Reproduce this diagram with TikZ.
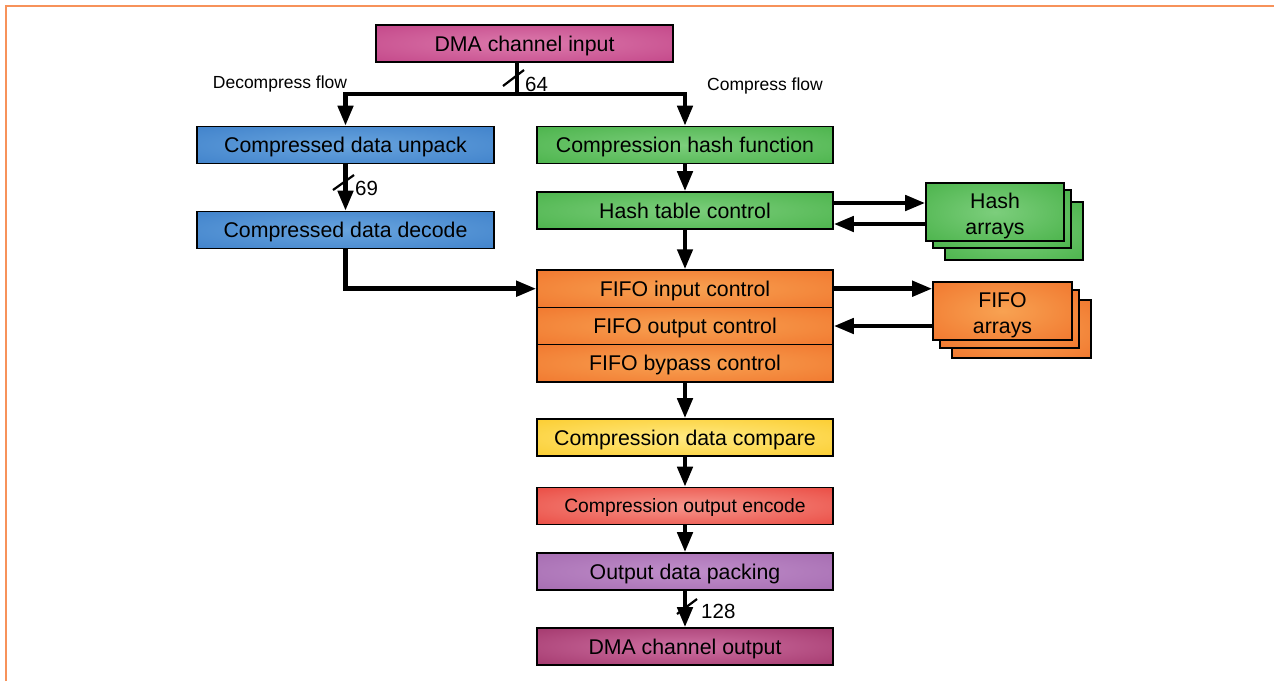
\documentclass[tikz,border=0pt]{standalone}
\usepackage{fontspec}
\setmainfont{Liberation Sans}
\usetikzlibrary{arrows.meta,calc}

% block palette: inner (centre glow) and outer (edge) colours
\definecolor{magI}{RGB}{220,122,172}\definecolor{magO}{RGB}{186,52,124}
\definecolor{bluI}{RGB}{104,164,222}\definecolor{bluO}{RGB}{50,118,196}
\definecolor{grnI}{RGB}{124,206,124}\definecolor{grnO}{RGB}{58,170,58}
\definecolor{orgI}{RGB}{248,162,82}\definecolor{orgO}{RGB}{238,104,34}
\definecolor{yelI}{RGB}{255,234,130}\definecolor{yelO}{RGB}{250,194,18}
\definecolor{redI}{RGB}{246,150,140}\definecolor{redO}{RGB}{230,48,40}
\definecolor{purI}{RGB}{192,142,202}\definecolor{purO}{RGB}{156,96,168}
\definecolor{dmoI}{RGB}{206,112,162}\definecolor{dmoO}{RGB}{148,36,90}
\definecolor{frameorange}{RGB}{247,146,90}

\colorlet{glowin}{white}
\colorlet{glowout}{black}
\pgfdeclareradialshading[glowin,glowout]{glow}{\pgfpoint{0bp}{0bp}}{%
  color(0bp)=(glowin); color(50bp)=(glowout); color(72bp)=(glowout)}

\tikzset{
  glowfill/.style 2 args={/utils/exec={\colorlet{glowin}{#1}\colorlet{glowout}{#2}},
    shade, shading=glow},
  blk/.style 2 args={draw=black, line width=1.6pt, minimum width=296pt,
    minimum height=37pt, inner sep=0pt, text height=15pt, text depth=0pt,
    font=\fontsize{21.3}{27}\selectfont, glowfill={#1}{#2}},
  arr/.style 2 args={draw=black, line width=1.6pt, minimum width=138pt,
    minimum height=58pt, inner sep=0pt, align=center, text height=45pt,
    text depth=0pt, font=\fontsize{21.3}{26}\selectfont, glowfill={#1}{#2}},
  flow/.style={draw=black, line width=4.5pt, line join=miter,
    -{Triangle[length=20pt,width=15pt]}},
  bus/.style={draw=black, line width=4.5pt, line join=miter},
  tick/.style={draw=black, line width=2.2pt},
  lbl/.style={font=\fontsize{17.5}{21}\selectfont, inner sep=0pt},
  wlbl/.style={font=\fontsize{20.5}{24}\selectfont, inner sep=0pt, anchor=west},
}

\begin{document}
\begin{tikzpicture}[x=1pt,y=-1pt]
\useasboundingbox (0,0) rectangle (1274,681);
\fill[white] (0,0) rectangle (1274,681);
\draw[frameorange, line width=2.5pt] (6,681) -- (6,6) -- (1274,6);

% input and decompress path
\node[blk={magI}{magO}, minimum width=297pt] (dmain) at (524.5,43.5) {DMA channel input};
\node[blk={bluI}{bluO}, minimum width=297pt] (unpack) at (345.5,145) {Compressed data unpack};
\node[blk={bluI}{bluO}, minimum width=297pt] (decode) at (345.5,230) {Compressed data decode};

% compress path
\node[blk={grnI}{grnO}] (hashfn) at (685,145) {Compression hash function};
\node[blk={grnI}{grnO}] (hashctl) at (685,210.5) {Hash table control};
\node[blk={orgI}{orgO}, minimum height=37.3pt] (fifoin) at (685,288.7) {FIFO input control};
\node[blk={orgI}{orgO}, minimum height=37.3pt] (fifoout) at (685,326) {FIFO output control};
\node[blk={orgI}{orgO}, minimum height=37.3pt] (fifobyp) at (685,363.3) {FIFO bypass control};
\node[blk={yelI}{yelO}] (compare) at (685,437.5) {Compression data compare};
\node[blk={redI}{redO}, font=\fontsize{19.3}{23}\selectfont, text height=13.6pt] (encode) at (685,506) {Compression output encode};
\node[blk={purI}{purO}] (packing) at (685,571.5) {Output data packing};
\node[blk={dmoI}{dmoO}] (dmaout) at (685,646.5) {DMA channel output};

% stacked memory arrays
\node[arr={grnI}{grnO}] at (1014,231) {};
\node[arr={grnI}{grnO}] at (1002,219) {};
\node[arr={grnI}{grnO}] (hasharr) at (995,212) {Hash\\arrays};
\node[arr={orgI}{orgO}, minimum width=139pt] at (1021.5,329) {};
\node[arr={orgI}{orgO}, minimum width=139pt] at (1009.5,319) {};
\node[arr={orgI}{orgO}, minimum width=139pt] (fifoarr) at (1002.5,311) {FIFO\\arrays};

% flow labels
\node[lbl] (decl) at (280,84) {Decompress flow};
\node[lbl] (compl) at (765,86) {Compress flow};

% input split
\coordinate (split) at (517,94);
\draw[bus] (dmain.south -| split) -- (split);
\draw[flow] (split) -| (unpack.north);
\draw[flow] (split) -| (hashfn.north);
\draw[tick] (503,86) -- (524,70);
\node[wlbl] (w64) at (525,84) {64};

% decompress chain
\draw[flow] (unpack) -- (decode);
\draw[tick] (333,190) -- (354,175);
\node[wlbl] (w69) at (355,188) {69};
\draw[flow] (decode.south) |- (fifoin.west);

% compress chain
\draw[flow] (hashfn) -- (hashctl);
\draw[flow] (hashctl) -- (fifoin);
\draw[flow] (fifobyp) -- (compare);
\draw[flow] (compare) -- (encode);
\draw[flow] (encode) -- (packing);
\draw[flow] (packing) -- (dmaout);
\draw[tick] (677,614) -- (697,599);
\node[wlbl] (w128) at (701,611) {128};

% array traffic
\draw[flow] ([yshift=7.5pt]hashctl.east) -- ([yshift=7.5pt]hashctl.east -| hasharr.west);
\draw[flow] ([yshift=-13.5pt]hashctl.east -| hasharr.west) -- ([yshift=-13.5pt]hashctl.east);
\draw[flow] (fifoin.east) -- (fifoin.east -| fifoarr.west);
\draw[flow] (fifoout.east -| fifoarr.west) -- (fifoout.east);
\end{tikzpicture}
\end{document}
